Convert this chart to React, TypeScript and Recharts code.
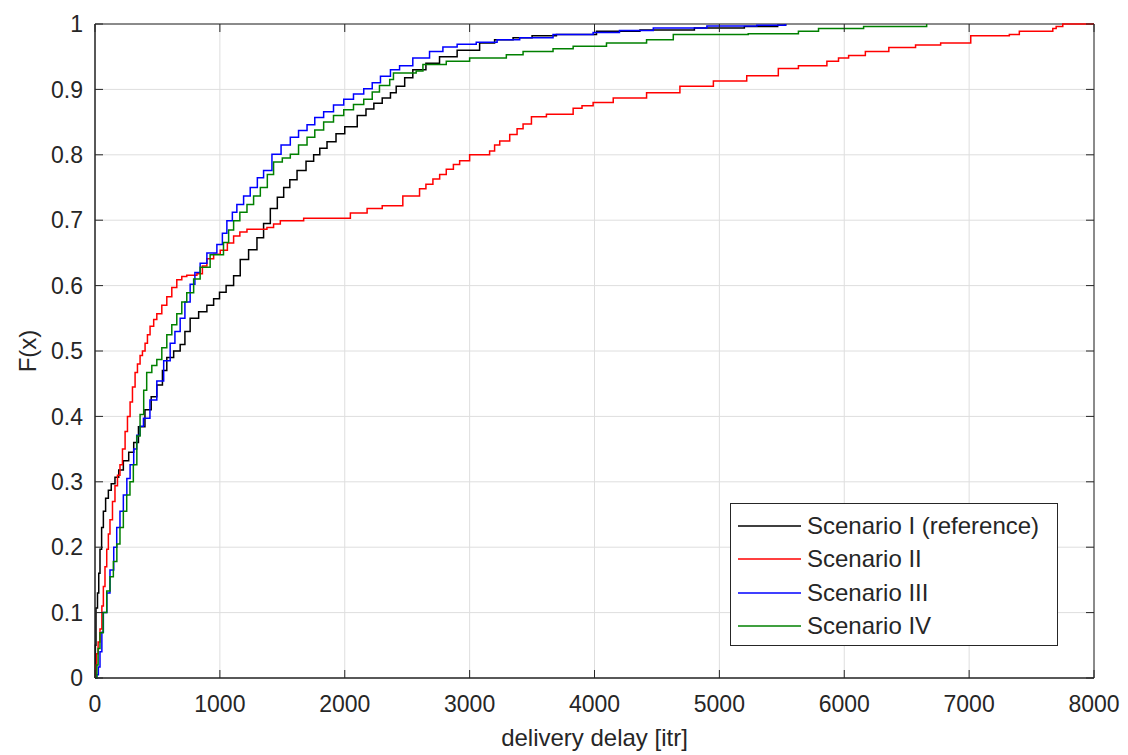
import React from 'react';
import { LineChart, Line, XAxis, YAxis, CartesianGrid, ReferenceArea } from 'recharts';

// delay [itr], F(x) pairs
const scenario1: number[][] = [
  [0, 0], [3, 0.05], [8, 0.107], [20, 0.13], [30, 0.16], [40, 0.197], [53, 0.23], [67, 0.255], [85, 0.275],
  [107, 0.287], [130, 0.297], [160, 0.307], [190, 0.318], [227, 0.332], [270, 0.345], [310, 0.36], [348, 0.384],
  [400, 0.41], [450, 0.43], [495, 0.448], [540, 0.47], [575, 0.49], [630, 0.5], [682, 0.51], [720, 0.53],
  [762, 0.55], [830, 0.56], [896, 0.57], [950, 0.58], [997, 0.59], [1050, 0.6], [1110, 0.615], [1163, 0.64],
  [1230, 0.655], [1297, 0.673], [1350, 0.695], [1404, 0.718], [1460, 0.735], [1511, 0.75], [1560, 0.762],
  [1618, 0.776], [1690, 0.79], [1751, 0.8], [1800, 0.81], [1858, 0.82], [1930, 0.832], [2000, 0.843],
  [2100, 0.86], [2170, 0.87], [2233, 0.879], [2300, 0.887], [2366, 0.895], [2412, 0.905], [2480, 0.918],
  [2545, 0.93], [2650, 0.94], [2759, 0.95], [2900, 0.96], [3080, 0.971], [3200, 0.976], [3348, 0.979],
  [3500, 0.982], [3695, 0.984], [4016, 0.989], [4364, 0.991], [4800, 0.994], [5200, 0.996], [5467, 0.998],
  [5530, 1],
];

const scenario2: number[][] = [
  [0, 0], [8, 0.02], [13, 0.037], [25, 0.055], [40, 0.075], [55, 0.11], [67, 0.14], [80, 0.17], [94, 0.197],
  [107, 0.22], [120, 0.242], [140, 0.27], [160, 0.294], [180, 0.31], [200, 0.326], [220, 0.35], [241, 0.377],
  [260, 0.4], [281, 0.422], [300, 0.445], [321, 0.467], [340, 0.48], [361, 0.493], [380, 0.5], [401, 0.512],
  [420, 0.525], [441, 0.538], [470, 0.548], [495, 0.557], [535, 0.57], [575, 0.583], [615, 0.597], [655, 0.609],
  [695, 0.614], [735, 0.616], [816, 0.618], [860, 0.63], [896, 0.641], [950, 0.648], [1003, 0.654],
  [1060, 0.665], [1110, 0.676], [1160, 0.682], [1217, 0.686], [1377, 0.689], [1430, 0.694], [1484, 0.699],
  [1671, 0.703], [1965, 0.703], [2045, 0.711], [2179, 0.718], [2300, 0.722], [2412, 0.722], [2465, 0.737],
  [2599, 0.748], [2650, 0.755], [2706, 0.763], [2760, 0.77], [2813, 0.778], [2870, 0.785], [2920, 0.791],
  [3000, 0.8], [3160, 0.806], [3200, 0.815], [3241, 0.821], [3321, 0.831], [3380, 0.84], [3428, 0.847],
  [3495, 0.858], [3615, 0.862], [3749, 0.862], [3829, 0.871], [3900, 0.875], [3989, 0.88], [4150, 0.887],
  [4417, 0.895], [4684, 0.905], [4952, 0.913], [5219, 0.921], [5445, 0.921], [5472, 0.932], [5633, 0.936],
  [5861, 0.943], [5954, 0.948], [6035, 0.952], [6169, 0.958], [6357, 0.964], [6571, 0.968], [6772, 0.971],
  [7013, 0.982], [7322, 0.984], [7402, 0.989], [7670, 0.993], [7697, 0.996], [7750, 1], [8000, 1],
];

const scenario3: number[][] = [
  [0, 0], [15, 0.005], [27, 0.017], [40, 0.04], [55, 0.07], [67, 0.1], [95, 0.13], [120, 0.165], [150, 0.2],
  [174, 0.23], [200, 0.255], [227, 0.28], [255, 0.305], [281, 0.326], [310, 0.35], [334, 0.371], [360, 0.385],
  [388, 0.397], [440, 0.425], [495, 0.454], [550, 0.485], [602, 0.512], [640, 0.53], [682, 0.55], [720, 0.575],
  [762, 0.602], [800, 0.62], [842, 0.634], [896, 0.65], [976, 0.663], [1020, 0.68], [1056, 0.699], [1100, 0.712],
  [1136, 0.724], [1190, 0.737], [1243, 0.75], [1300, 0.765], [1350, 0.776], [1417, 0.801], [1490, 0.815],
  [1564, 0.827], [1630, 0.837], [1698, 0.846], [1760, 0.857], [1831, 0.866], [1910, 0.876], [1992, 0.885],
  [2070, 0.893], [2152, 0.901], [2220, 0.91], [2286, 0.92], [2366, 0.93], [2439, 0.936], [2545, 0.948],
  [2679, 0.958], [2786, 0.965], [2900, 0.969], [3053, 0.972], [3220, 0.976], [3401, 0.979], [3668, 0.984],
  [3989, 0.987], [4200, 0.99], [4471, 0.994], [4900, 0.997], [5300, 0.998], [5530, 1],
];

const scenario4: number[][] = [
  [0, 0], [15, 0.02], [25, 0.045], [40, 0.069], [65, 0.1], [94, 0.133], [120, 0.155], [147, 0.178], [175, 0.205],
  [200, 0.23], [227, 0.255], [254, 0.28], [280, 0.3], [307, 0.326], [335, 0.37], [361, 0.403], [390, 0.44],
  [414, 0.467], [455, 0.478], [495, 0.487], [535, 0.505], [575, 0.525], [615, 0.54], [655, 0.557], [695, 0.575],
  [735, 0.589], [790, 0.61], [842, 0.628], [922, 0.647], [1029, 0.666], [1070, 0.685], [1110, 0.699],
  [1160, 0.712], [1217, 0.724], [1270, 0.737], [1324, 0.75], [1380, 0.77], [1430, 0.789], [1500, 0.795],
  [1564, 0.801], [1630, 0.815], [1698, 0.827], [1760, 0.838], [1831, 0.85], [1910, 0.86], [1992, 0.869],
  [2070, 0.877], [2152, 0.885], [2220, 0.896], [2278, 0.906], [2360, 0.915], [2390, 0.925], [2572, 0.928],
  [2626, 0.938], [2813, 0.943], [3000, 0.948], [3294, 0.953], [3428, 0.958], [3668, 0.962], [3829, 0.966],
  [4096, 0.971], [4417, 0.976], [4631, 0.984], [5231, 0.985], [5633, 0.989], [5794, 0.993], [6155, 0.996],
  [6660, 1],
];

const xTicks = [0, 1000, 2000, 3000, 4000, 5000, 6000, 7000, 8000];
const yTicks = [0, 0.1, 0.2, 0.3, 0.4, 0.5, 0.6, 0.7, 0.8, 0.9, 1];

const series = [
  { name: 'Scenario I (reference)', color: '#000000', points: scenario1 },
  { name: 'Scenario II', color: '#ff0000', points: scenario2 },
  { name: 'Scenario III', color: '#0000ff', points: scenario3 },
  { name: 'Scenario IV', color: '#008000', points: scenario4 },
];

const W = 1112;
const H = 745;
const LEFT = 87;
const RIGHT = 1086;
const TOP = 16;
const BOTTOM = 670;
const FONT = '"Liberation Sans", Arial, Helvetica, sans-serif';
const INK = '#262626';
const TICK = 8;

const fmtY = (v: number) => (v === 0 || v === 1 ? String(v) : v.toFixed(1));

const BottomTick = (props: any) => {
  const { x, payload } = props;
  return (
    <g>
      <line x1={x} x2={x} y1={BOTTOM} y2={BOTTOM - TICK} stroke={INK} />
      <line x1={x} x2={x} y1={TOP} y2={TOP + TICK} stroke={INK} />
      <text x={x} y={BOTTOM + 34} textAnchor="middle" fontSize={23} fill={INK} fontFamily={FONT}>
        {payload.value}
      </text>
    </g>
  );
};

const LeftTick = (props: any) => {
  const { y, payload } = props;
  return (
    <g>
      <line x1={LEFT} x2={LEFT + TICK} y1={y} y2={y} stroke={INK} />
      <line x1={RIGHT} x2={RIGHT - TICK} y1={y} y2={y} stroke={INK} />
      <text x={LEFT - 12} y={y} dy="0.36em" textAnchor="end" fontSize={23} fill={INK} fontFamily={FONT}>
        {fmtY(payload.value)}
      </text>
    </g>
  );
};

function LegendBox() {
  return (
    <div
      style={{
        position: 'absolute',
        left: 722,
        top: 495,
        width: 326,
        height: 136,
        border: `1px solid ${INK}`,
        background: '#fff',
        fontFamily: FONT,
        fontSize: 24,
        color: INK,
        paddingTop: 5,
      }}
    >
      {series.map((s) => (
        <div key={s.name} style={{ display: 'flex', alignItems: 'center', height: 33.5 }}>
          <svg width={63} height={4} style={{ marginLeft: 7, marginRight: 6 }}>
            <line x1={0} x2={63} y1={2} y2={2} stroke={s.color} strokeWidth={1.5} />
          </svg>
          <span>{s.name}</span>
        </div>
      ))}
    </div>
  );
}

export default function App() {
  return (
    <div style={{ position: 'relative', width: W, height: H }}>
      <LineChart width={W} height={H} margin={{ top: TOP, right: W - RIGHT, left: 0, bottom: 0 }}>
        <CartesianGrid stroke="#dedede" strokeWidth={1} />
        <XAxis
          type="number"
          dataKey="x"
          domain={[0, 8000]}
          ticks={xTicks}
          interval={0}
          height={H - BOTTOM}
          axisLine={{ stroke: INK }}
          tickLine={false}
          tickSize={0}
          tick={<BottomTick />}
          label={{ value: 'delivery delay [itr]', position: 'insideBottom', offset: 7, fontSize: 24, fill: INK, fontFamily: FONT }}
        />
        <YAxis
          type="number"
          domain={[0, 1]}
          ticks={yTicks}
          interval={0}
          width={LEFT}
          axisLine={{ stroke: INK }}
          tickLine={false}
          tickSize={0}
          tick={<LeftTick />}
          label={{ value: 'F(x)', angle: -90, position: 'insideLeft', offset: 19, fontSize: 24, fill: INK, fontFamily: FONT, style: { textAnchor: 'middle' } }}
        />
        <ReferenceArea x1={0} x2={8000} y1={0} y2={1} fill="none" stroke={INK} strokeWidth={1} />
        {series.map((s) => (
          <Line
            key={s.name}
            data={s.points.map(([x, y]) => ({ x, y }))}
            dataKey="y"
            name={s.name}
            type="stepAfter"
            stroke={s.color}
            strokeWidth={1.5}
            dot={false}
            activeDot={false}
            isAnimationActive={false}
          />
        ))}
      </LineChart>
      <LegendBox />
    </div>
  );
}
